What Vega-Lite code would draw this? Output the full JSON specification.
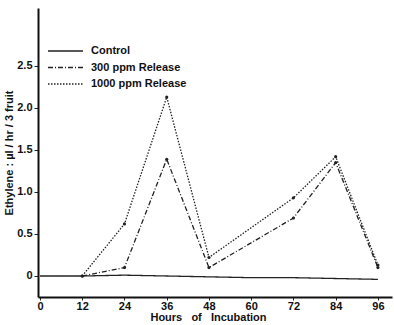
{
  "$schema": "https://vega.github.io/schema/vega-lite/v6.json",
  "width": 354,
  "height": 289,
  "autosize": {"type": "none"},
  "padding": {"left": 38, "top": 8, "right": 2, "bottom": 28},
  "background": "white",
  "config": {
    "view": {"stroke": null},
    "font": "Liberation Sans",
    "axis": {"grid": false, "domainColor": "#111", "domainWidth": 2, "tickColor": "#222", "labelColor": "#111", "titleColor": "#111", "labelFont": "Liberation Sans", "titleFont": "Liberation Sans", "labelFontWeight": "bold", "titleFontWeight": "bold", "labelFontSize": 11, "titleFontSize": 11}
  },
  "data": {
    "values": [
      {"h": 0, "v": 0, "s": "Control"},
      {"h": 12, "v": 0, "s": "Control"},
      {"h": 24, "v": 0.01, "s": "Control"},
      {"h": 36, "v": 0, "s": "Control"},
      {"h": 48, "v": -0.01, "s": "Control"},
      {"h": 60, "v": -0.02, "s": "Control"},
      {"h": 72, "v": -0.02, "s": "Control"},
      {"h": 84, "v": -0.03, "s": "Control"},
      {"h": 96, "v": -0.04, "s": "Control"},
      {"h": 12, "v": 0, "s": "300 ppm Release"},
      {"h": 24, "v": 0.1, "s": "300 ppm Release"},
      {"h": 36, "v": 1.39, "s": "300 ppm Release"},
      {"h": 48, "v": 0.1, "s": "300 ppm Release"},
      {"h": 72, "v": 0.69, "s": "300 ppm Release"},
      {"h": 84, "v": 1.35, "s": "300 ppm Release"},
      {"h": 96, "v": 0.1, "s": "300 ppm Release"},
      {"h": 12, "v": 0, "s": "1000 ppm Release"},
      {"h": 24, "v": 0.62, "s": "1000 ppm Release"},
      {"h": 36, "v": 2.13, "s": "1000 ppm Release"},
      {"h": 48, "v": 0.22, "s": "1000 ppm Release"},
      {"h": 72, "v": 0.93, "s": "1000 ppm Release"},
      {"h": 84, "v": 1.42, "s": "1000 ppm Release"},
      {"h": 96, "v": 0.13, "s": "1000 ppm Release"}
    ]
  },
  "encoding": {
    "x": {"field": "h", "type": "quantitative", "scale": {"domain": [-0.57, 100], "nice": false, "zero": false},
      "axis": {"values": [0, 12, 24, 36, 48, 60, 72, 84, 96], "title": "Hours\u00a0\u00a0\u00a0of\u00a0\u00a0\u00a0Incubation", "tickSize": 3, "labelPadding": 0, "titlePadding": 0, "titleX": 170}},
    "y": {"field": "v", "type": "quantitative", "scale": {"domain": [-0.25, 3.19], "nice": false, "zero": false},
      "axis": {"values": [0, 0.5, 1, 1.5, 2, 2.5], "labelExpr": "datum.value == 0 ? '0' : format(datum.value, '.1f')", "title": "Ethylene : µl / hr / 3 fruit", "tickSize": 4, "labelPadding": 2, "titlePadding": 2}}
  },
  "layer": [
    {
      "mark": {"type": "line", "color": "#222", "strokeWidth": 1.3},
      "encoding": {
        "strokeDash": {"field": "s", "type": "nominal",
          "scale": {"domain": ["Control", "300 ppm Release", "1000 ppm Release"], "range": [[1, 0], [5, 2, 1, 2], [1.5, 1.5]]},
          "legend": {"title": null, "orient": "none", "legendX": 9, "legendY": 37, "symbolType": "M-1,0H6", "symbolSize": 100, "symbolStrokeWidth": 1.3, "symbolStrokeColor": "#222", "symbolFillColor": "transparent", "labelFont": "Liberation Sans", "labelFontWeight": "bold", "labelFontSize": 11, "labelColor": "#111", "labelOffset": 32, "rowPadding": 5.5}}
      }
    },
    {
      "transform": [{"filter": "datum.s != 'Control'"}],
      "mark": {"type": "point", "filled": true, "color": "#222", "size": 10, "opacity": 1}
    }
  ]
}
